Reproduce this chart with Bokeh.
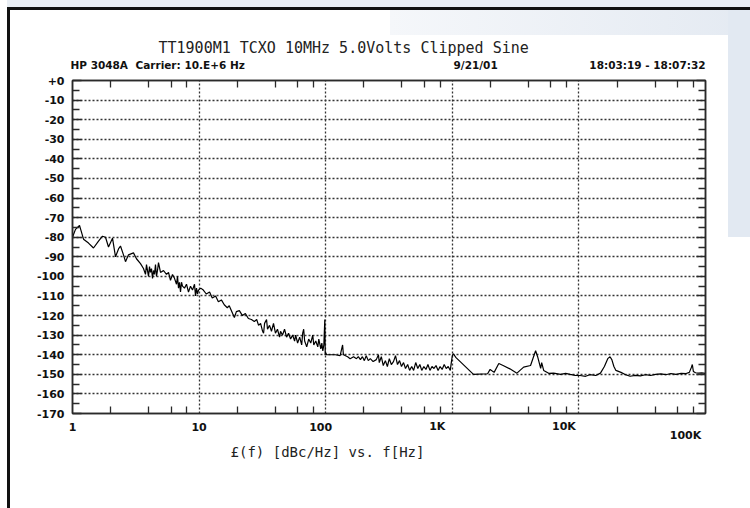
from bokeh.plotting import figure
from bokeh.layouts import column
from bokeh.models import FixedTicker, LinearAxis, LogAxis, Range1d, ColumnDataSource
from bokeh.core.properties import value
from bokeh.embed import file_html
from bokeh.resources import INLINE

# ---- data ----
freq_hz = [
    1.0, 1.056, 1.136, 1.222, 1.338, 1.465, 1.605, 1.726, 1.823, 1.925, 2.07, 2.186,
    2.309, 2.394, 2.528, 2.622, 2.769, 3.032, 3.202, 3.444, 3.637, 3.772, 3.841,
    3.984, 4.057, 4.132, 4.207, 4.285, 4.363, 4.443, 4.525, 4.608, 4.692, 4.779,
    4.956, 5.233, 5.527, 5.732, 5.944, 6.164, 6.393, 6.63, 6.751, 6.875, 7.001,
    7.13, 7.261, 7.394, 7.668, 7.952, 8.246, 8.552, 8.868, 9.198, 9.367, 9.539,
    9.714, 9.89,
    10.3, 10.8, 11.4, 12.1, 12.7, 13.5, 14.2, 15.0, 15.8, 16.7, 17.3, 18.4, 19.0,
    19.7, 20.8, 22.0, 23.2, 24.5, 25.9, 27.3, 28.5, 29.5, 30.6, 31.7, 32.3, 32.9,
    34.1, 34.7, 36.0, 37.3, 38.7, 40.1, 41.6, 43.2, 44.0, 45.6, 47.3, 49.1, 50.9,
    52.8, 54.8, 56.8, 57.9, 60.0, 62.3, 64.6, 65.8, 67.0, 68.2, 70.8, 73.4, 76.2,
    79.0, 80.5, 83.5, 86.6, 88.2, 91.5, 93.2, 94.9, 96.7, 98.4, 99.2, 100.0,
    101.8, 109, 119, 130, 136, 138, 149, 156, 166, 175, 181, 188, 195, 202, 209,
    217, 225, 237, 251, 261, 265, 275, 285, 296, 307, 318, 330, 343, 356, 369,
    383, 397, 412, 427, 444, 460, 478, 495, 514, 534, 554, 574, 596, 619, 642,
    666, 691, 717, 744, 772, 801, 831, 863, 895, 929, 964, 982, 1000, 1019,
    1070, 1470, 1900, 1990, 2140, 2330, 2520, 2850, 3240, 3660, 4150, 4550, 4720,
    4990, 5080, 5270, 5770, 6310, 7170, 7860, 8520, 9350, 10200, 11300, 12200,
    13600, 14800, 15900, 16900, 17600, 18200, 18900, 19600, 21500, 23000, 25400,
    27900, 30600, 33600, 36800, 40400, 44300, 48600, 53300, 58500, 64200, 70400,
    74500, 77300, 78700, 80200, 83400, 88200, 93300, 100000,
]
noise_dbc = [
    -80, -76, -74, -81, -83, -85.5, -82, -79.5, -80, -85, -80.5, -90,
    -86, -84.5, -89, -92.5, -89, -88, -91, -93.5, -96, -99, -94,
    -100, -95, -98, -96, -101, -97, -99, -94, -100, -97, -93,
    -98, -97, -99, -98, -102, -99, -101, -104, -100, -106, -103,
    -108, -103, -105, -106, -104, -108, -105, -107, -104, -110, -106,
    -109, -107,
    -106, -107, -109, -108, -111, -110, -113, -112, -114.5, -116, -115, -119, -121,
    -118, -117.5, -120, -119, -121.5, -122, -123, -122, -125, -124, -128, -129, -124,
    -122, -127, -125, -128, -124, -129, -127, -131, -128, -130, -127, -131, -129,
    -132, -130, -133, -130, -134, -131, -135, -129, -127, -133, -136, -132, -134,
    -130, -135, -133, -136, -132, -137, -134, -138, -135, -122, -140, -139,
    -140, -140, -140, -140.5, -135, -140, -141, -142, -141, -142, -141, -142.5, -141, -143, -140.5,
    -143, -142, -143.5, -142.5, -140, -144, -141, -145.5, -143, -146, -142, -145, -143.5, -140.5, -145,
    -143, -146, -144, -147, -145, -148, -146, -148, -144, -147, -145, -148, -146, -147.5, -145,
    -148, -146, -147, -145.5, -148, -146, -147.5, -145, -147, -146, -148, -144, -140.5, -139.5,
    -141.5, -150, -149.7, -147.5, -149, -144.5, -145.5, -147.2, -149.4, -146.3, -145.5, -138, -141,
    -147, -144, -148, -149.5, -149.4, -150, -149.5, -150, -150.5, -150.6, -151, -150.2,
    -150.6, -149.4, -146, -142, -141, -142.5, -146, -148, -149, -150, -151,
    -150.5, -150.8, -150.2, -150.6, -150, -149.8, -150.2, -149.6, -150, -149.5, -149.6,
    -149, -146.5, -145, -148.5, -149.2, -149.4, -149.3, -149.5,
]

y_ticks = list(range(-170, 1, 10))
y_minor_ticks = list(range(-165, 0, 10))
y_tick_labels = ["+0" if v == 0 else str(v) for v in y_ticks]
x_decades = [1, 10, 100, 1000, 10000, 100000]
x_tick_labels = ["1", "10", "100", "1K", "10K", "100K"]
x_minor_ticks = [d * m for d in x_decades[:-1] for m in (2, 4, 6, 8)]

title_text = "TT1900M1 TCXO 10MHz 5.0Volts Clipped Sine"
instrument_text = "HP 3048A"
carrier_text = "Carrier: 10.E+6 Hz"
date_text = "9/21/01"
time_text = "18:03:19 - 18:07:32"
xlabel_text = "£(f) [dBc/Hz] vs. f[Hz]"

# ---- layout / style constants ----
AX = "#2a2a2a"
GRID = "#333333"
LAB_FONT = "DejaVu Sans"
MONO = "DejaVu Sans Mono"
W = 740                 # width of every strip (page x 10..750)
FR_L, FR_R = 62, 45     # chart frame borders left / right
HEAD_H = 62             # header strip height (page y 10..72)
MAIN_H = 348            # main strip height (page y 72..420)
FOOT_H = 88             # footer strip height (page y 420..508)
DECADE_PX = (W - FR_L - FR_R) / 5.0


def plain_strip(h, **kw):
    f = figure(width=W, height=h, output_backend="svg", toolbar_location=None,
               min_border=0, x_axis_location=None, y_axis_location=None, **kw)
    f.grid.visible = False
    f.outline_line_color = None
    f.background_fill_color = None
    f.border_fill_color = None
    return f


def unalign(f):
    try:
        f.frame_align = False
        return True
    except Exception:
        return False


# ---------------- main chart ----------------
p = figure(width=W, height=MAIN_H, x_axis_type="log",
           x_range=Range1d(1, 1e5), y_range=Range1d(-170, 0),
           output_backend="svg", toolbar_location=None,
           min_border_left=FR_L, min_border_right=FR_R,
           min_border_top=8, min_border_bottom=7)
p.background_fill_color = "white"
p.border_fill_color = None
p.outline_line_color = AX
p.outline_line_width = 1.5

xa = p.xaxis[0]
xa.ticker = FixedTicker(ticks=x_decades, minor_ticks=x_minor_ticks)
xa.major_label_text_font_size = "1px"
xa.major_label_text_color = None
xa.major_label_standoff = 0
xa.major_tick_in = 0
xa.major_tick_out = 0
xa.minor_tick_in = 7
xa.minor_tick_out = 0
xa.axis_line_color = AX
xa.axis_line_width = 1.5
xa.minor_tick_line_color = AX
xa.minor_tick_line_width = 1.3

ya = p.yaxis[0]
ya.ticker = FixedTicker(ticks=y_ticks, minor_ticks=y_minor_ticks)
ya.major_label_overrides = {v: l for v, l in zip(y_ticks, y_tick_labels)}
ya.major_tick_in = 9
ya.major_tick_out = 0
ya.minor_tick_in = 7
ya.minor_tick_out = 0
ya.axis_line_color = AX
ya.axis_line_width = 1.5
ya.major_tick_line_color = AX
ya.major_tick_line_width = 1.3
ya.minor_tick_line_color = AX
ya.minor_tick_line_width = 1.3
ya.major_label_text_font = LAB_FONT
ya.major_label_text_font_style = "bold"
ya.major_label_text_font_size = "11px"
ya.major_label_text_color = "#111"
ya.major_label_standoff = 8

ra = LinearAxis(ticker=FixedTicker(ticks=y_ticks, minor_ticks=y_minor_ticks),
                major_label_text_color=None, major_label_standoff=0,
                major_tick_in=9, major_tick_out=0,
                minor_tick_in=7, minor_tick_out=0, axis_line_color=AX,
                axis_line_width=1.5, major_tick_line_color=AX, minor_tick_line_color=AX,
                major_tick_line_width=1.3, minor_tick_line_width=1.3)
p.add_layout(ra, "right")

ta = LogAxis(ticker=FixedTicker(ticks=x_decades, minor_ticks=x_minor_ticks),
             major_label_text_font_size="1px", major_label_text_color=None,
             major_label_standoff=0, major_tick_in=0, major_tick_out=0,
             minor_tick_in=7, minor_tick_out=0, axis_line_color=AX,
             axis_line_width=1.5, minor_tick_line_color=AX, minor_tick_line_width=1.3)
p.add_layout(ta, "above")

p.xgrid.ticker = FixedTicker(ticks=x_decades)
p.ygrid.ticker = FixedTicker(ticks=y_ticks)
for g in (p.xgrid[0], p.ygrid[0]):
    g.grid_line_color = GRID
    g.grid_line_dash = "2 2"
    g.grid_line_width = 1.3

p.line(freq_hz, noise_dbc, line_color="black", line_width=1.2)

# ---------------- header / footer strips ----------------
free = unalign(p)
fl, fr = (10, 10 + W) if free else (10 + FR_L, 10 + W - FR_R)

header = plain_strip(HEAD_H, x_range=Range1d(fl - 10, fr - 10), y_range=Range1d(0, HEAD_H))
unalign(header)
header.text(x=[148], y=[25], text=[title_text], text_font=value(MONO), text_font_size="15px",
            text_color="#222", text_align="left", text_baseline="middle")
for tx, anchor, txt in ((60, "left", instrument_text), (125, "left", carrier_text),
                        (443, "left", date_text), (695, "right", time_text)):
    header.text(x=[tx], y=[8], text=[txt], text_font=value(LAB_FONT), text_font_style="bold",
                text_font_size="10.5px", text_color="#111", text_align=anchor,
                text_baseline="middle")

ext_l = (fl - (10 + FR_L)) / DECADE_PX
ext_r = (fr - (10 + W - FR_R)) / DECADE_PX
footer = plain_strip(FOOT_H, x_axis_type="log",
                     x_range=Range1d(10 ** ext_l, 1e5 * 10 ** ext_r),
                     y_range=Range1d(0, FOOT_H))
unalign(footer)
tick_src = ColumnDataSource(dict(
    x=x_decades, text=x_tick_labels,
    y=[82, 82, 82, 82, 82, 73],
    dx=[0, 0, -5, -15, -15, -20],
))
footer.text(x="x", y="y", text="text", x_offset="dx", source=tick_src,
            text_font=value(LAB_FONT), text_font_style="bold", text_font_size="11px",
            text_color="#111", text_align="center", text_baseline="middle")
footer.text(x=[1], y=[57], text=[xlabel_text], x_offset=255, text_font=value(MONO),
            text_font_size="14px", text_color="#222", text_align="center",
            text_baseline="middle")

# page decoration: black rules top/left, pale blue backdrop bands
backdrop = ("linear-gradient(#e2e9f2, #e2e9f2) 718px 0px / 22px 227px no-repeat, "
            "linear-gradient(to right, #f5f7fa, #e4eaf2) 380px 0px / 360px 25px no-repeat, "
            "#ffffff")
page = column(header, p, footer, spacing=0,
              styles={"margin-top": "7px", "margin-left": "7px",
                      "border-top": "3px solid #111", "border-left": "3px solid #111",
                      "background": backdrop,
                      "box-shadow": "0px -7px 0px 0px #e9eef4"})

open("out.html", "w").write(file_html(page, INLINE))
